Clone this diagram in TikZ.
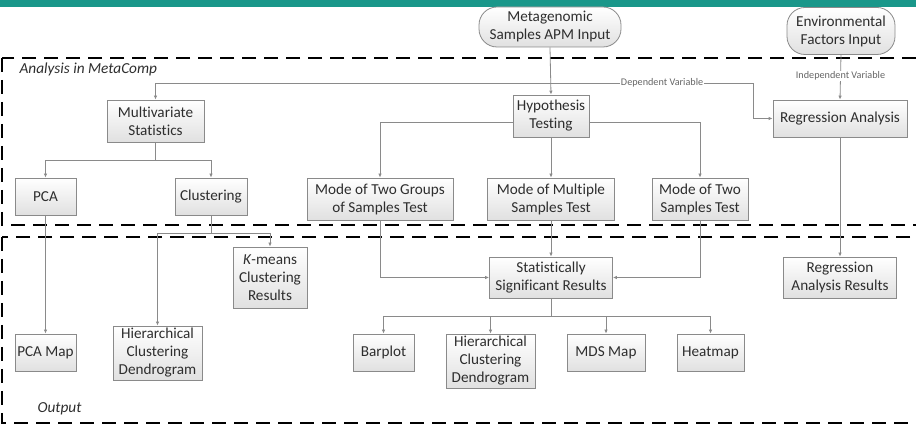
\documentclass[tikz,border=0pt]{standalone}
\usepackage{fontspec}
\setmainfont{Carlito}[Ligatures=NoCommon]
\usetikzlibrary{arrows.meta}
\definecolor{barteal}{HTML}{1A978A}
\definecolor{boxline}{HTML}{8A8A8A}
\definecolor{boxtext}{HTML}{2E2E2E}
\tikzset{
  box/.style={draw=boxline, line width=0.8pt, top color=white, bottom color=black!12,
    text=boxtext, align=center, inner sep=1pt, font=\fontsize{15.2}{18}\selectfont},
  inbox/.style={box, rounded corners=18pt},
  link/.style={draw=boxline, line width=0.8pt, -{Latex[length=4pt,width=3.5pt]}},
  plain/.style={draw=boxline, line width=0.8pt},
  lbl/.style={fill=white, text=black!60, inner sep=1pt, font=\fontsize{10.2}{12}\selectfont},
  title/.style={anchor=west, text=boxtext, font=\fontsize{15.3}{18}\selectfont\itshape},
  frame/.style={draw=black, line width=2.4pt, dash pattern=on 14pt off 8pt}
}
\begin{document}
\begin{tikzpicture}[x=1pt,y=-1pt]
\useasboundingbox (0,0) rectangle (916,427);
\clip (0,0) rectangle (916,427);

% Drawing teal bar
\fill [barteal] (0,0) rectangle (916,7);

% Drawing dashed frames
\draw [frame] (2,58) rectangle (930,225);
\draw [frame] (2,237) rectangle (930,423);
\node (analysis) at (16,69) [title] {Analysis in MetaComp};
\node (output) at (34,409) [title] {Output};

% Input nodes
\node (meta) at (550,27) [inbox, minimum width=142pt, minimum height=40pt] {Metagenomic\\Samples APM Input};
\node (env) at (841,31) [inbox, minimum width=108pt, minimum height=47pt] {Environmental\\Factors Input};

% Analysis nodes
\node (multi) at (155.5,121) [box, minimum width=97pt, minimum height=42pt] {Multivariate\\Statistics};
\node (hypo) at (551,116) [box, minimum width=76pt, minimum height=42pt] {Hypothesis\\Testing};
\node (regr) at (840,118.5) [box, minimum width=134pt, minimum height=37pt] {Regression Analysis};
\node (pca) at (45.5,196.5) [box, minimum width=61pt, minimum height=37pt] {PCA};
\node (clus) at (211,196.5) [box, minimum width=72pt, minimum height=37pt] {Clustering};
\node (twogrp) at (380,199) [box, minimum width=146pt, minimum height=42pt] {Mode of Two Groups\\of Samples Test};
\node (multiple) at (551,199) [box, minimum width=127pt, minimum height=42pt] {Mode of Multiple\\Samples Test};
\node (twosmp) at (700,199) [box, minimum width=96pt, minimum height=42pt] {Mode of Two\\Samples Test};

% Output nodes
\node (kmeans) at (270,277.5) [box, minimum width=74pt, minimum height=61pt] {\textit{K}-means\\Clustering\\Results};
\node (stat) at (551,277.5) [box, minimum width=123pt, minimum height=41pt] {Statistically\\Significant Results};
\node (regres) at (840,277.5) [box, minimum width=113pt, minimum height=41pt] {Regression\\Analysis Results};
\node (pcamap) at (45.5,352.5) [box, minimum width=61pt, minimum height=37pt] {PCA Map};
\node (hierA) at (157.5,353) [box, minimum width=89pt, minimum height=54pt] {Hierarchical\\Clustering\\Dendrogram};
\node (barplot) at (383.5,352.5) [box, minimum width=61pt, minimum height=37pt] {Barplot};
\node (hierB) at (490.5,361) [box, minimum width=89pt, minimum height=54pt] {Hierarchical\\Clustering\\Dendrogram};
\node (mds) at (606,352.5) [box, minimum width=78pt, minimum height=37pt] {MDS Map};
\node (heat) at (710.5,352.5) [box, minimum width=67pt, minimum height=37pt] {Heatmap};

% Split points
\coordinate (insplit) at (551,83);
\coordinate (dvturn) at (753,83);
\coordinate (mvsplit) at (155.5,160);
\coordinate (clsplit) at (211,233);
\coordinate (stsplit) at (551,316);

% Drawing input links
\draw [link] (meta.south) -- (hypo.north);
\draw [link] (insplit) -| (multi.north);
\draw [link] (insplit) -- node [lbl, pos=0.55] {Dependent Variable} (dvturn) |- (regr.west);
\draw [link] (env.south) -- node [lbl, pos=0.47] {Independent Variable} (regr.north);

% Drawing analysis links
\draw [link] (hypo.south) -- (multiple.north);
\draw [link] ([yshift=-6pt]hypo.west) -| (twogrp.north);
\draw [link] ([yshift=-6pt]hypo.east) -| (twosmp.north);
\draw [plain] (multi.south) -- (mvsplit);
\draw [link] (mvsplit) -| (pca.north);
\draw [link] (mvsplit) -| (clus.north);

% Drawing output links
\draw [link] (pca.south) -- (pcamap.north);
\draw [plain] (clus.south) -- (clsplit);
\draw [link] (clsplit) -| (hierA.north);
\draw [link] (clsplit) -| (kmeans.north);
\draw [link] (twogrp.south) |- (stat.west);
\draw [link] (multiple.south) -- (stat.north);
\draw [link] (twosmp.south) |- (stat.east);
\draw [link] (regr.south) -- (regres.north);
\draw [plain] (stat.south) -- (stsplit);
\draw [link] (stsplit) -| (barplot.north);
\draw [link] (stsplit) -| (hierB.north);
\draw [link] (stsplit) -| (mds.north);
\draw [link] (stsplit) -| (heat.north);
\end{tikzpicture}
\end{document}
